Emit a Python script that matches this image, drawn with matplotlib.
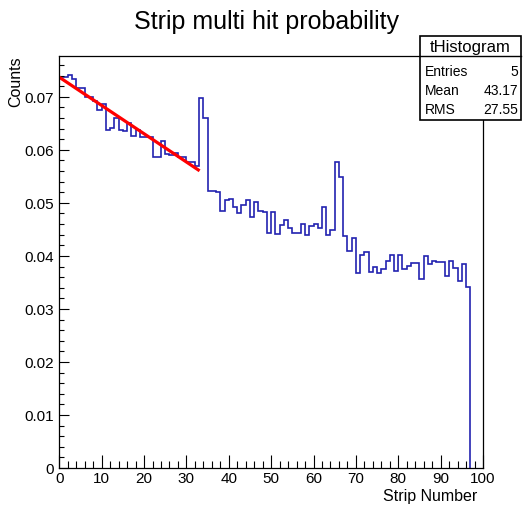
import numpy as np
import matplotlib
matplotlib.use('Agg')
import matplotlib.pyplot as plt
from matplotlib.patches import Rectangle
from matplotlib.lines import Line2D
from matplotlib.ticker import MultipleLocator, FuncFormatter

plt.rcParams['font.family'] = ['Liberation Sans', 'DejaVu Sans']

# Содержимое гистограммы: одна ячейка на стрип, 0..96
strip_edges = np.arange(0, 98)
strip_counts = [
    0.0738, 0.0738, 0.0742, 0.0733, 0.0717, 0.0717, 0.0699, 0.0699, 0.0692, 0.0675,
    0.0686, 0.0638, 0.0642, 0.0661, 0.0638, 0.0635, 0.0650, 0.0626, 0.0637, 0.0625,
    0.0625, 0.0624, 0.0586, 0.0586, 0.0616, 0.0592, 0.0591, 0.0594, 0.0586, 0.0586,
    0.0578, 0.0578, 0.0570, 0.0698, 0.0660, 0.0523, 0.0523, 0.0520, 0.0484, 0.0506,
    0.0508, 0.0492, 0.0481, 0.0496, 0.0506, 0.0473, 0.0501, 0.0484, 0.0482, 0.0443,
    0.0482, 0.0442, 0.0459, 0.0468, 0.0453, 0.0443, 0.0443, 0.0460, 0.0440, 0.0456,
    0.0460, 0.0453, 0.0492, 0.0439, 0.0448, 0.0578, 0.0548, 0.0437, 0.0410, 0.0434,
    0.0368, 0.0401, 0.0407, 0.0370, 0.0380, 0.0368, 0.0375, 0.0391, 0.0402, 0.0372,
    0.0401, 0.0375, 0.0381, 0.0387, 0.0387, 0.0357, 0.0399, 0.0385, 0.0391, 0.0388,
    0.0388, 0.0363, 0.0390, 0.0377, 0.0353, 0.0385, 0.0341,
]

# Параметры линейного фита (pol1) и его диапазон
fit_p0 = 0.0737
fit_p1 = -0.000533
fit_range = (0.0, 32.8)

# Панель статистики
stats_name = 'tHistogram'
stats_labels = ['Entries', 'Mean', 'RMS']
stats_values = ['5', '43.17', '27.55']

W, H = 523, 506
fig = plt.figure(figsize=(W / 100, H / 100), dpi=100)
ax = fig.add_axes([59.3 / W, 1 - 469 / H, (483 - 59.3) / W, (469 - 57) / H])

ax.stairs(strip_counts, strip_edges, baseline=0, color='#2222b0', linewidth=1.2)

fx = np.linspace(fit_range[0], fit_range[1], 50)
ax.plot(fx, fit_p0 + fit_p1 * fx, color='red', linewidth=2.3)

ax.set_xlim(0, 100)
ax.set_ylim(0, 0.0777)

ax.xaxis.set_major_locator(MultipleLocator(10))
ax.xaxis.set_minor_locator(MultipleLocator(2))
ax.yaxis.set_major_locator(MultipleLocator(0.01))
ax.yaxis.set_minor_locator(MultipleLocator(0.002))
ax.yaxis.set_major_formatter(FuncFormatter(lambda v, p: '0' if abs(v) < 1e-9 else f'{v:.2f}'))

ax.tick_params(axis='x', which='major', direction='in', length=9.5, width=0.8, labelsize=11, pad=2)
ax.tick_params(axis='x', which='minor', direction='in', length=5, width=0.8)
ax.tick_params(axis='y', which='major', direction='in', length=7.5, width=0.8, labelsize=11, pad=4)
ax.tick_params(axis='y', which='minor', direction='in', length=3.8, width=0.8)
for sp in ax.spines.values():
    sp.set_linewidth(0.9)

fig.text(266 / W, 1 - 22 / H, 'Strip multi hit probability', ha='center', va='center', fontsize=18)
fig.text(477 / W, 1 - 497 / H, 'Strip Number', ha='right', va='center', fontsize=11.5)
fig.text(16 / W, 1 - 56 / H, 'Counts', ha='center', va='top', rotation=90, fontsize=11.5)

# Рамка статистики поверх осей
box_l, box_r, box_t, box_b, box_mid = 420, 521, 37.5, 121, 57
fig.patches.append(Rectangle((box_l / W, 1 - box_b / H), (box_r - box_l) / W, (box_b - box_t) / H,
                             transform=fig.transFigure, facecolor='white', edgecolor='black',
                             linewidth=1.2, zorder=5))
fig.lines.append(Line2D([box_l / W, box_r / W], [1 - box_mid / H, 1 - box_mid / H],
                        transform=fig.transFigure, color='black', linewidth=1.0, zorder=6))
fig.text((box_l + box_r) / 2 / W, 1 - 47.5 / H, stats_name, ha='center', va='center',
         fontsize=12, zorder=7)
for i, (lab, val) in enumerate(zip(stats_labels, stats_values)):
    yy = 1 - (71.5 + i * 19.2) / H
    fig.text(425 / W, yy, lab, ha='left', va='center', fontsize=10, zorder=7)
    fig.text(518 / W, yy, val, ha='right', va='center', fontsize=10, zorder=7)

fig.savefig('out.png', dpi=100)
